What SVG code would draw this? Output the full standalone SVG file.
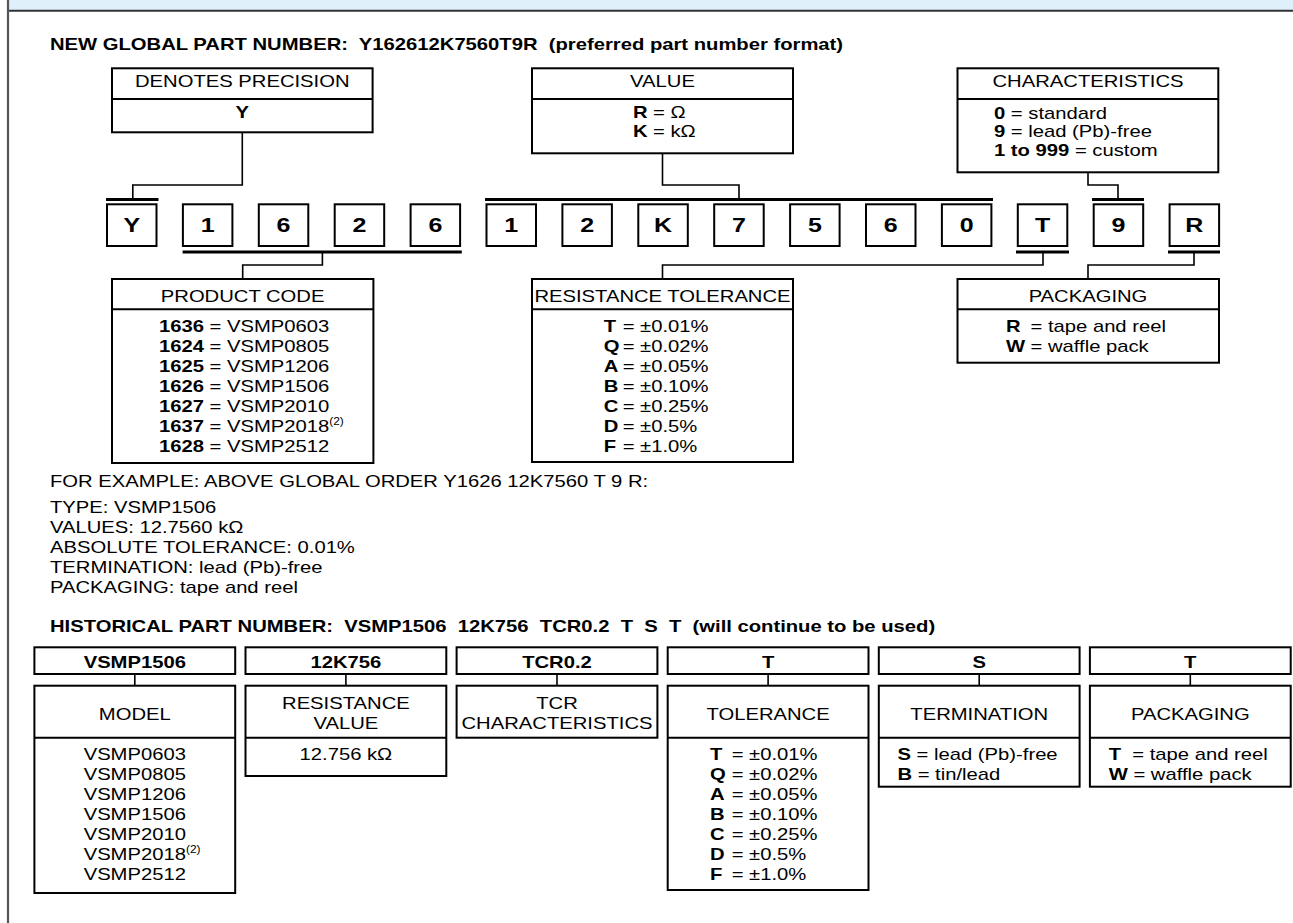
<svg xmlns="http://www.w3.org/2000/svg" width="1293" height="923" viewBox="0 0 1293 923">
<style>
.b{fill:#fff;stroke:#000;stroke-width:2}
.ln{stroke:#000;stroke-width:2;fill:none}
.cn{stroke:#000;stroke-width:1.6;fill:none}
.bar{stroke:#000;stroke-width:3}
text{font-family:"Liberation Sans",Arial,Helvetica,sans-serif;font-size:17px;fill:#000;white-space:pre}
.c{text-anchor:middle}
.bd{font-weight:bold}
.dg{font-size:21px;font-weight:bold;text-anchor:middle}
.sup{font-size:10px}
</style>
<rect x="8" y="0" width="1285" height="10" fill="#dff0fa"/>
<line x1="7" y1="10.8" x2="1293" y2="10.8" stroke="#333" stroke-width="2"/>
<line x1="8" y1="0" x2="8" y2="923" stroke="#555" stroke-width="2.2"/>

<g transform="scale(1.19,1)">
<text class="bd" x="42.02" y="50">NEW GLOBAL PART NUMBER:  Y162612K7560T9R  (preferred part number format)</text>
<text x="42.02" y="486.7">FOR EXAMPLE: ABOVE GLOBAL ORDER Y1626 12K7560 T 9 R:</text>
<text x="42.02" y="513.3">TYPE: VSMP1506</text>
<text x="42.02" y="533.3">VALUES: 12.7560 kΩ</text>
<text x="42.02" y="553.3">ABSOLUTE TOLERANCE: 0.01%</text>
<text x="42.02" y="573.3">TERMINATION: lead (Pb)-free</text>
<text x="42.02" y="593.3">PACKAGING: tape and reel</text>
<text class="bd" x="42.02" y="631.7">HISTORICAL PART NUMBER:  VSMP1506  12K756  TCR0.2  T  S  T  (will continue to be used)</text>
</g>

<g id="connectors">
<line class="bar" x1="106" y1="199.5" x2="158.5" y2="199.5"/>
<line class="bar" x1="485" y1="199.5" x2="993" y2="199.5"/>
<line class="bar" x1="1092" y1="199.5" x2="1144" y2="199.5"/>
<line class="bar" x1="182.6" y1="252" x2="461.8" y2="252"/>
<line class="bar" x1="1016" y1="252" x2="1069" y2="252"/>
<line class="bar" x1="1168" y1="252" x2="1220" y2="252"/>
<path class="cn" d="M242.3,132.3 V185 H132.8 V198"/>
<path class="cn" d="M662.5,153.3 V185 H739 V198"/>
<path class="cn" d="M1088,172.3 V185 H1118 V198"/>
<path class="cn" d="M322.4,253 V265 H242.7 V279"/>
<path class="cn" d="M1043,253 V265 H662.5 V279"/>
<path class="cn" d="M1194,253 V265 H1088 V279"/>
<path class="cn" d="M134.8,674 V685.7 M345.9,674 V685.7 M557,674 V685.7 M768.1,674 V685.7 M979.2,674 V685.7 M1190.3,674 V685.7"/>
</g>

<g id="node-denotes">
<rect class="b" x="112" y="68.3" width="260.6" height="64"/>
<line class="ln" x1="112" y1="99" x2="372.6" y2="99"/>
<g transform="scale(1.19,1)">
<text class="c" x="203.6" y="87.3">DENOTES PRECISION</text>
<text class="c bd" x="203.6" y="118.3">Y</text>
</g>
</g>

<g id="node-value">
<rect class="b" x="532" y="68.3" width="261" height="85"/>
<line class="ln" x1="532" y1="99" x2="793" y2="99"/>
<g transform="scale(1.19,1)">
<text class="c" x="556.72" y="87.3">VALUE</text>
<text x="531.93" y="118.3"><tspan class="bd">R</tspan><tspan x="548.74">= Ω</tspan></text>
<text x="531.93" y="137"><tspan class="bd">K</tspan><tspan x="548.74">= kΩ</tspan></text>
</g>
</g>

<g id="node-characteristics">
<rect class="b" x="957.5" y="68.3" width="260.8" height="104"/>
<line class="ln" x1="957.5" y1="99" x2="1218.3" y2="99"/>
<g transform="scale(1.19,1)">
<text class="c" x="914.29" y="87.3">CHARACTERISTICS</text>
<text x="835.29" y="119"><tspan class="bd">0</tspan> = standard</text>
<text x="835.29" y="137.5"><tspan class="bd">9</tspan> = lead (Pb)-free</text>
<text x="835.29" y="156"><tspan class="bd">1 to 999</tspan> = custom</text>
</g>
</g>

<g id="digit-0"><rect class="b" x="107" y="204.3" width="49.5" height="41.7"/><text class="dg" transform="scale(1.19,1)" x="110.71" y="232">Y</text></g>
<g id="digit-1"><rect class="b" x="182.9" y="204.3" width="49.5" height="41.7"/><text class="dg" transform="scale(1.19,1)" x="174.50" y="232">1</text></g>
<g id="digit-2"><rect class="b" x="258.8" y="204.3" width="49.5" height="41.7"/><text class="dg" transform="scale(1.19,1)" x="238.28" y="232">6</text></g>
<g id="digit-3"><rect class="b" x="334.7" y="204.3" width="49.5" height="41.7"/><text class="dg" transform="scale(1.19,1)" x="302.06" y="232">2</text></g>
<g id="digit-4"><rect class="b" x="410.6" y="204.3" width="49.5" height="41.7"/><text class="dg" transform="scale(1.19,1)" x="365.84" y="232">6</text></g>
<g id="digit-5"><rect class="b" x="486.5" y="204.3" width="49.5" height="41.7"/><text class="dg" transform="scale(1.19,1)" x="429.62" y="232">1</text></g>
<g id="digit-6"><rect class="b" x="562.4" y="204.3" width="49.5" height="41.7"/><text class="dg" transform="scale(1.19,1)" x="493.41" y="232">2</text></g>
<g id="digit-7"><rect class="b" x="638.3" y="204.3" width="49.5" height="41.7"/><text class="dg" transform="scale(1.19,1)" x="557.19" y="232">K</text></g>
<g id="digit-8"><rect class="b" x="714.2" y="204.3" width="49.5" height="41.7"/><text class="dg" transform="scale(1.19,1)" x="620.97" y="232">7</text></g>
<g id="digit-9"><rect class="b" x="790.1" y="204.3" width="49.5" height="41.7"/><text class="dg" transform="scale(1.19,1)" x="684.75" y="232">5</text></g>
<g id="digit-10"><rect class="b" x="866" y="204.3" width="49.5" height="41.7"/><text class="dg" transform="scale(1.19,1)" x="748.53" y="232">6</text></g>
<g id="digit-11"><rect class="b" x="941.9" y="204.3" width="49.5" height="41.7"/><text class="dg" transform="scale(1.19,1)" x="812.32" y="232">0</text></g>
<g id="digit-12"><rect class="b" x="1017.8" y="204.3" width="49.5" height="41.7"/><text class="dg" transform="scale(1.19,1)" x="876.10" y="232">T</text></g>
<g id="digit-13"><rect class="b" x="1093.7" y="204.3" width="49.5" height="41.7"/><text class="dg" transform="scale(1.19,1)" x="939.88" y="232">9</text></g>
<g id="digit-14"><rect class="b" x="1169.6" y="204.3" width="49.5" height="41.7"/><text class="dg" transform="scale(1.19,1)" x="1003.66" y="232">R</text></g>

<g id="node-product-code">
<rect class="b" x="112" y="279" width="261.4" height="184"/>
<line class="ln" x1="112" y1="309.3" x2="373.4" y2="309.3"/>
<g transform="scale(1.19,1)">
<text class="c" x="203.9" y="301.7">PRODUCT CODE</text>
<text x="133.61" y="331.7"><tspan class="bd">1636</tspan> = VSMP0603</text>
<text x="133.61" y="351.7"><tspan class="bd">1624</tspan> = VSMP0805</text>
<text x="133.61" y="371.7"><tspan class="bd">1625</tspan> = VSMP1206</text>
<text x="133.61" y="391.7"><tspan class="bd">1626</tspan> = VSMP1506</text>
<text x="133.61" y="411.7"><tspan class="bd">1627</tspan> = VSMP2010</text>
<text x="133.61" y="431.7"><tspan class="bd">1637</tspan> = VSMP2018<tspan class="sup" dy="-7">(2)</tspan></text>
<text x="133.61" y="451.7"><tspan class="bd">1628</tspan> = VSMP2512</text>
</g>
</g>

<g id="node-resistance-tolerance">
<rect class="b" x="532" y="279" width="261" height="183"/>
<line class="ln" x1="532" y1="309.3" x2="793" y2="309.3"/>
<g transform="scale(1.19,1)">
<text class="c" x="556.72" y="301.7">RESISTANCE TOLERANCE</text>
<text x="507.31" y="331.7"><tspan class="bd">T</tspan><tspan x="523.28">= ±0.01%</tspan></text>
<text x="507.31" y="351.7"><tspan class="bd">Q</tspan><tspan x="523.28">= ±0.02%</tspan></text>
<text x="507.31" y="371.7"><tspan class="bd">A</tspan><tspan x="523.28">= ±0.05%</tspan></text>
<text x="507.31" y="391.7"><tspan class="bd">B</tspan><tspan x="523.28">= ±0.10%</tspan></text>
<text x="507.31" y="411.7"><tspan class="bd">C</tspan><tspan x="523.28">= ±0.25%</tspan></text>
<text x="507.31" y="431.7"><tspan class="bd">D</tspan><tspan x="523.28">= ±0.5%</tspan></text>
<text x="507.31" y="451.7"><tspan class="bd">F</tspan><tspan x="523.28">= ±1.0%</tspan></text>
</g>
</g>

<g id="node-packaging">
<rect class="b" x="957.5" y="279" width="261.5" height="83.7"/>
<line class="ln" x1="957.5" y1="309.3" x2="1219" y2="309.3"/>
<g transform="scale(1.19,1)">
<text class="c" x="914.29" y="301.7">PACKAGING</text>
<text x="845.38" y="331.7"><tspan class="bd">R</tspan><tspan x="865.97">= tape and reel</tspan></text>
<text x="845.38" y="351.7"><tspan class="bd">W</tspan><tspan x="865.97">= waffle pack</tspan></text>
</g>
</g>

<g id="node-h-model">
<rect class="b" x="34.4" y="647.3" width="200.8" height="26.7"/>
<rect class="b" x="34.4" y="685.7" width="200.8" height="207.3"/>
<line class="ln" x1="34.4" y1="737.7" x2="235.2" y2="737.7"/>
<g transform="scale(1.19,1)">
<text class="c bd" x="113.28" y="668.3">VSMP1506</text>
<text class="c" x="113.28" y="720">MODEL</text>
<text class="c" x="113.28" y="760">VSMP0603</text>
<text class="c" x="113.28" y="780">VSMP0805</text>
<text class="c" x="113.28" y="800">VSMP1206</text>
<text class="c" x="113.28" y="820">VSMP1506</text>
<text class="c" x="113.28" y="840">VSMP2010</text>
<text x="70.3" y="860">VSMP2018<tspan class="sup" dy="-7">(2)</tspan></text>
<text class="c" x="113.28" y="880">VSMP2512</text>
</g>
</g>

<g id="node-h-value">
<rect class="b" x="245.5" y="647.3" width="200.8" height="26.7"/>
<rect class="b" x="245.5" y="685.7" width="200.8" height="90.3"/>
<line class="ln" x1="245.5" y1="737.7" x2="446.3" y2="737.7"/>
<g transform="scale(1.19,1)">
<text class="c bd" x="290.67" y="668.3">12K756</text>
<text class="c" x="290.67" y="709.3">RESISTANCE</text>
<text class="c" x="290.67" y="729.3">VALUE</text>
<text class="c" x="290.67" y="760">12.756 kΩ</text>
</g>
</g>

<g id="node-h-tcr">
<rect class="b" x="456.6" y="647.3" width="200.8" height="26.7"/>
<rect class="b" x="456.6" y="685.7" width="200.8" height="52"/>
<g transform="scale(1.19,1)">
<text class="c bd" x="468.07" y="668.3">TCR0.2</text>
<text class="c" x="468.07" y="709.3">TCR</text>
<text class="c" x="468.07" y="729.3">CHARACTERISTICS</text>
</g>
</g>

<g id="node-h-tolerance">
<rect class="b" x="667.7" y="647.3" width="200.8" height="26.7"/>
<rect class="b" x="667.7" y="685.7" width="200.8" height="204.3"/>
<line class="ln" x1="667.7" y1="737.7" x2="868.5" y2="737.7"/>
<g transform="scale(1.19,1)">
<text class="c bd" x="645.46" y="668.3">T</text>
<text class="c" x="645.46" y="720">TOLERANCE</text>
<text x="596.64" y="760"><tspan class="bd">T</tspan><tspan x="614.87">= ±0.01%</tspan></text>
<text x="596.64" y="780"><tspan class="bd">Q</tspan><tspan x="614.87">= ±0.02%</tspan></text>
<text x="596.64" y="800"><tspan class="bd">A</tspan><tspan x="614.87">= ±0.05%</tspan></text>
<text x="596.64" y="820"><tspan class="bd">B</tspan><tspan x="614.87">= ±0.10%</tspan></text>
<text x="596.64" y="840"><tspan class="bd">C</tspan><tspan x="614.87">= ±0.25%</tspan></text>
<text x="596.64" y="860"><tspan class="bd">D</tspan><tspan x="614.87">= ±0.5%</tspan></text>
<text x="596.64" y="880"><tspan class="bd">F</tspan><tspan x="614.87">= ±1.0%</tspan></text>
</g>
</g>

<g id="node-h-termination">
<rect class="b" x="878.8" y="647.3" width="200.8" height="26.7"/>
<rect class="b" x="878.8" y="685.7" width="200.8" height="101"/>
<line class="ln" x1="878.8" y1="737.7" x2="1079.6" y2="737.7"/>
<g transform="scale(1.19,1)">
<text class="c bd" x="822.86" y="668.3">S</text>
<text class="c" x="822.86" y="720">TERMINATION</text>
<text x="754.2" y="760"><tspan class="bd">S</tspan> = lead (Pb)-free</text>
<text x="754.2" y="780"><tspan class="bd">B</tspan> = tin/lead</text>
</g>
</g>

<g id="node-h-packaging">
<rect class="b" x="1089.9" y="647.3" width="200.8" height="26.7"/>
<rect class="b" x="1089.9" y="685.7" width="200.8" height="101"/>
<line class="ln" x1="1089.9" y1="737.7" x2="1290.7" y2="737.7"/>
<g transform="scale(1.19,1)">
<text class="c bd" x="1000.25" y="668.3">T</text>
<text class="c" x="1000.25" y="720">PACKAGING</text>
<text x="931.72" y="760"><tspan class="bd">T</tspan>  = tape and reel</text>
<text x="931.72" y="780"><tspan class="bd">W</tspan> = waffle pack</text>
</g>
</g>
</svg>
